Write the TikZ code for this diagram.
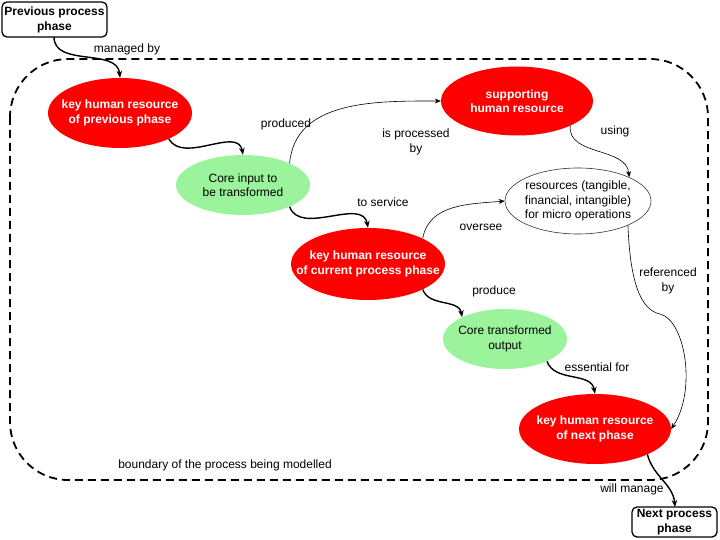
\documentclass[tikz,border=0pt]{standalone}
\usepackage{fontspec}
\setmainfont{Liberation Sans}
\usetikzlibrary{arrows.meta,shapes.geometric}
\definecolor{nodered}{RGB}{255,0,0}
\definecolor{nodegreen}{RGB}{155,243,155}
\begin{document}
\begin{tikzpicture}[x=1pt,y=1pt,
  font=\fontsize{12}{14.3}\selectfont,
  ell/.style={ellipse, inner sep=0pt},
  redell/.style={ell, fill=nodered},
  grnell/.style={ell, fill=nodegreen},
  whtell/.style={ell, draw=black!80, line width=0.6pt, fill=white},
  redtxt/.style={align=center, text=white, font=\fontsize{12}{14.3}\selectfont\bfseries, inner sep=0pt},
  plaintxt/.style={align=center, inner sep=0pt},
  phasebox/.style={draw, line width=1.3pt, rounded corners=5pt, fill=white},
  boldtxt/.style={align=center, font=\fontsize{12}{14.3}\selectfont\bfseries, inner sep=0pt},
  lbl/.style={align=center, inner sep=0pt},
  thickarrow/.style={line width=1.4pt, -{Stealth[length=7pt,width=5.5pt]}},
  thinarrow/.style={line width=0.6pt, -{Stealth[length=6pt,width=5pt]}},
  boundary/.style={line width=1.8pt, dash pattern=on 8pt off 5pt, rounded corners=58pt}
]
\useasboundingbox (0,0) rectangle (720,-540);

% boundary
\draw[boundary] (10,-59) rectangle (708,-480);
\node[lbl] (blbl) at (225,-465) {boundary of the process being modelled};

% phase boxes
\draw[phasebox] (2,-2) rectangle (107,-37);
\node[boldtxt] (prev) at (54.5,-20) {Previous process\\phase};
\coordinate (prevbot) at (54,-37);
\draw[phasebox] (632,-507) rectangle (717,-537);
\node[boldtxt] (next) at (674.5,-522) {Next process\\phase};
\coordinate (nexttop) at (675,-507);

% ellipses
\node[redell, minimum width=144pt, minimum height=70pt] (kprev) at (120,-113) {};
\node[redtxt] (kprevt) at (kprev) {key human resource\\of previous phase};

\node[redell, minimum width=152pt, minimum height=69pt] (supp) at (517,-101) {};
\node[redtxt] (suppt) at (supp) {supporting\\human resource};

\node[grnell, minimum width=134pt, minimum height=60pt] (core) at (243,-185) {};
\node[plaintxt] (coret) at (core) {Core input to\\be transformed};

\node[whtell, minimum width=146pt, minimum height=66pt] (res) at (578,-201) {};
\node[plaintxt] (rest) at (res) {resources (tangible,\\financial, intangible)\\for micro operations};

\node[redell, minimum width=154pt, minimum height=72pt] (kcur) at (368,-264) {};
\node[redtxt] (kcurt) at (kcur) {key human resource\\of current process phase};

\node[grnell, minimum width=124pt, minimum height=60pt] (ctrans) at (505,-339) {};
\node[plaintxt] (ctranst) at (ctrans) {Core transformed\\output};

\node[redell, minimum width=152pt, minimum height=70pt] (knext) at (595,-429) {};
\node[redtxt] (knextt) at (knext) {key human resource\\of next phase};

% connectors
\draw[thickarrow] (prevbot) to[out=-90,in=95] (kprev.north);
\draw[thickarrow] (kprev.-28) to[out=-60,in=100] (core.north);
\draw[thickarrow] (core.-25) to[out=-70,in=100] (kcur.north);
\draw[thickarrow] (kcur.-25) to[out=-70,in=100] (ctrans.153);
\draw[thickarrow] (ctrans.-28) to[out=-70,in=100] (knext.north);
\draw[thickarrow] (knext.-26) to[out=-75,in=95] (nexttop);

\draw[thinarrow] (core.25) to[out=85,in=180] (supp.west);
\draw[thinarrow] (supp.-25) to[out=-95,in=95] (res.25);
\draw[thinarrow] (kcur.25) to[out=80,in=185] (res.west);
\draw[thinarrow] (res.-26) .. controls (630,-280) and (640,-310) .. (660,-314)
   .. controls (685,-320) and (697,-390) .. (knext.east);

% labels
\node[lbl] (l1) at (127,-49) {managed by};
\node[lbl] (l2) at (286,-124) {produced};
\node[lbl] (l3) at (416,-142) {is processed\\by};
\node[lbl] (l4) at (383,-202) {to service};
\node[lbl] (l5) at (615,-131) {using};
\node[lbl] (l6) at (481,-227) {oversee};
\node[lbl] (l7) at (668,-281) {referenced\\by};
\node[lbl] (l8) at (494,-291) {produce};
\node[lbl] (l9) at (597,-367) {essential for};
\node[lbl] (l10) at (632,-489) {will manage};
\end{tikzpicture}
\end{document}
